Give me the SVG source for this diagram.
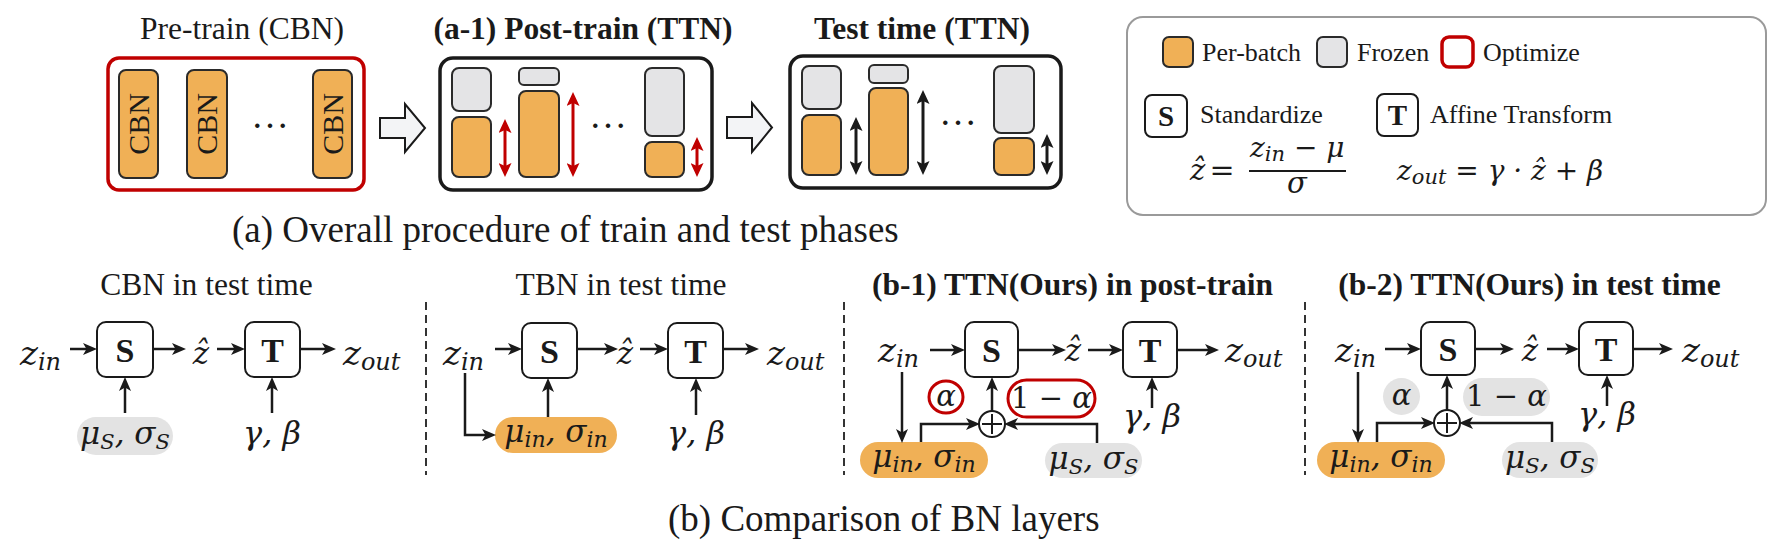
<svg xmlns="http://www.w3.org/2000/svg" width="1781" height="544" viewBox="0 0 1781 544">
<defs>
<style>
.t{font-family:"Liberation Serif","Times New Roman",serif;fill:#1a1a1a}
.ti{font-size:31.5px}
.tb{font-size:31.5px;font-weight:bold}
.lg{font-size:26px}
.cap{font-size:37px}
.bl{font-weight:bold}
.m{font-family:"DejaVu Serif",serif;font-style:italic;fill:#1a1a1a}
.mu{font-family:"DejaVu Serif",serif;fill:#1a1a1a}
.org{fill:#F0B056;stroke:#2a2a2a;stroke-width:2}
.gry{fill:#E4E4E6;stroke:#2a2a2a;stroke-width:2}
.opill{fill:#F0B056}
.gpill{fill:#E3E3E3}
.box{fill:#fff;stroke:#1a1a1a;stroke-width:2}
.c{fill:none;stroke:#1a1a1a;stroke-width:2.5;marker-end:url(#ah)}
.dr{fill:none;stroke:#C00000;stroke-width:3;marker-start:url(#hr);marker-end:url(#hr)}
.dk{fill:none;stroke:#1a1a1a;stroke-width:3;marker-start:url(#hk);marker-end:url(#hk)}
.dash{stroke:#333;stroke-width:2;stroke-dasharray:8 5}
.hol{fill:#F3F4F6;stroke:#1a1a1a;stroke-width:2;stroke-linejoin:miter}
</style>
<marker id="ah" viewBox="0 0 14 12" refX="4" refY="6" markerWidth="14" markerHeight="12" markerUnits="userSpaceOnUse" orient="auto-start-reverse"><path d="M0,0 L14,6 L0,12 L3.5,6 z" fill="#1a1a1a"/></marker>
<marker id="hr" viewBox="0 0 14 13" refX="4" refY="6.5" markerWidth="14" markerHeight="13" markerUnits="userSpaceOnUse" orient="auto-start-reverse"><path d="M0,0 L14,6.5 L0,13 L3,6.5 z" fill="#C00000"/></marker>
<marker id="hk" viewBox="0 0 14 13" refX="4" refY="6.5" markerWidth="14" markerHeight="13" markerUnits="userSpaceOnUse" orient="auto-start-reverse"><path d="M0,0 L14,6.5 L0,13 L3,6.5 z" fill="#1a1a1a"/></marker>
</defs>
<rect width="1781" height="544" fill="#fff"/>

<!-- (a) Pre-train -->
<g id="pretrain">
<text class="t ti" x="242" y="39" text-anchor="middle">Pre-train (CBN)</text>
<rect x="108" y="58" width="256" height="132" rx="11" fill="#fff" stroke="#C00000" stroke-width="3.5"/>
<rect class="org" x="119" y="70" width="39" height="108" rx="7"/>
<rect class="org" x="187" y="70" width="40" height="108" rx="7"/>
<rect class="org" x="313" y="70" width="39" height="108" rx="7"/>
<text class="t" font-size="30" text-anchor="middle" transform="translate(138.5,124) rotate(-90)" y="10">CBN</text>
<text class="t" font-size="30" text-anchor="middle" transform="translate(207,124) rotate(-90)" y="10">CBN</text>
<text class="t" font-size="30" text-anchor="middle" transform="translate(332.5,124) rotate(-90)" y="10">CBN</text>
<text class="t" font-size="38" x="270" y="128" text-anchor="middle">…</text>
</g>
<g id="arrow1"><polygon class="hol" points="380,118 405,118 405,104 425,128 405,152 405,138 380,138"/></g>

<!-- (a-1) Post-train -->
<g id="posttrain">
<text class="t tb" x="583" y="39" text-anchor="middle">(a-1) Post-train (TTN)</text>
<rect x="440" y="58" width="272" height="132" rx="13" fill="#fff" stroke="#1a1a1a" stroke-width="3.5"/>
<rect class="gry" x="452" y="68" width="39" height="43" rx="7"/>
<rect class="org" x="452" y="117" width="39" height="60" rx="7"/>
<rect class="gry" x="519" y="68" width="40" height="17" rx="5"/>
<rect class="org" x="519" y="91" width="40" height="86" rx="7"/>
<rect class="gry" x="645" y="68" width="39" height="68" rx="7"/>
<rect class="org" x="645" y="142" width="39" height="35" rx="7"/>
<line class="dr" x1="505" y1="129" x2="505" y2="167"/>
<line class="dr" x1="573" y1="102" x2="573" y2="167"/>
<line class="dr" x1="697" y1="147" x2="697" y2="167"/>
<text class="t" font-size="38" x="608" y="128" text-anchor="middle">…</text>
</g>
<g id="arrow2"><polygon class="hol" points="727,117 752,117 752,103 772,127.5 752,152 752,138 727,138"/></g>

<!-- Test time -->
<g id="testtime">
<text class="t tb" x="922" y="39" text-anchor="middle">Test time (TTN)</text>
<rect x="790" y="56" width="271" height="132" rx="13" fill="#fff" stroke="#1a1a1a" stroke-width="3.5"/>
<rect class="gry" x="802" y="66" width="39" height="43" rx="7"/>
<rect class="org" x="802" y="115" width="39" height="60" rx="7"/>
<rect class="gry" x="869" y="65" width="39" height="18" rx="5"/>
<rect class="org" x="869" y="88" width="39" height="87" rx="7"/>
<rect class="gry" x="994" y="66" width="40" height="67" rx="7"/>
<rect class="org" x="994" y="138" width="40" height="37" rx="7"/>
<line class="dk" x1="856" y1="127" x2="856" y2="165"/>
<line class="dk" x1="923" y1="100" x2="923" y2="165"/>
<line class="dk" x1="1047" y1="144" x2="1047" y2="165"/>
<text class="t" font-size="38" x="958" y="125" text-anchor="middle">…</text>
</g>

<!-- Legend -->
<g id="legend">
<rect x="1127" y="17" width="639" height="198" rx="16" fill="#fff" stroke="#9a9a9a" stroke-width="2"/>
<rect class="org" x="1163" y="37" width="30" height="30" rx="6"/>
<text class="t lg" x="1202" y="61">Per-batch</text>
<rect class="gry" x="1317" y="37" width="30" height="30" rx="6"/>
<text class="t lg" x="1357" y="61">Frozen</text>
<rect x="1442" y="37" width="31" height="30" rx="7" fill="#fff" stroke="#C00000" stroke-width="3.5"/>
<text class="t lg" x="1483" y="61">Optimize</text>
<rect class="box" x="1145" y="95" width="42" height="42" rx="7"/>
<text class="t bl" font-size="29" x="1166" y="126" text-anchor="middle">S</text>
<text class="t lg" x="1200" y="123">Standardize</text>
<rect class="box" x="1377" y="94" width="41" height="42" rx="7"/>
<text class="t bl" font-size="29" x="1397.5" y="125" text-anchor="middle">T</text>
<text class="t lg" x="1430" y="123">Affine Transform</text>
<text class="m" font-size="29" x="1190" y="180">ẑ</text>
<text class="mu" font-size="30" x="1222" y="180" text-anchor="middle">=</text>
<text class="m" font-size="28" x="1250" y="157">z<tspan font-size="21" dy="4">in</tspan><tspan dy="-4"> − μ</tspan></text>
<line x1="1249" y1="171" x2="1346" y2="171" stroke="#1a1a1a" stroke-width="1.8"/>
<text class="m" font-size="29" x="1297" y="193" text-anchor="middle">σ</text>
<text class="m" font-size="28" x="1397" y="180">z<tspan font-size="21" dy="4">out</tspan><tspan dy="-4"> = γ · ẑ + β</tspan></text>
</g>
<text class="t cap" x="232" y="242">(a) Overall procedure of train and test phases</text>

<!-- (b) CBN -->
<g id="cbn">
<text class="t ti" x="206.5" y="295" text-anchor="middle">CBN in test time</text>
<text class="m" font-size="34" x="20" y="365">z<tspan font-size="24" dy="5">in</tspan></text>
<rect class="box" x="97" y="322" width="56" height="55" rx="9"/>
<text class="t bl" font-size="34" x="125" y="362" text-anchor="middle">S</text>
<text class="m" font-size="31" x="201" y="364" text-anchor="middle">ẑ</text>
<rect class="box" x="245" y="322" width="55" height="55" rx="9"/>
<text class="t bl" font-size="34" x="272.5" y="362" text-anchor="middle">T</text>
<text class="m" font-size="34" x="343" y="365">z<tspan font-size="24" dy="5">out</tspan></text>
<rect class="gpill" x="77" y="417" width="96" height="38" rx="19"/>
<text class="m" font-size="31" x="125" y="444" text-anchor="middle">μ<tspan font-size="21" dy="5">S</tspan><tspan dy="-5">, σ</tspan><tspan font-size="21" dy="5">S</tspan></text>
<text class="m" font-size="32" x="272" y="444" text-anchor="middle">γ, β</text>
</g>
<line class="dash" x1="426" y1="302" x2="426" y2="475"/>

<!-- (b) TBN -->
<g id="tbn">
<text class="t ti" x="621" y="295" text-anchor="middle">TBN in test time</text>
<text class="m" font-size="34" x="443" y="365">z<tspan font-size="24" dy="5">in</tspan></text>
<rect class="box" x="522" y="323" width="55" height="55" rx="9"/>
<text class="t bl" font-size="34" x="549.5" y="363" text-anchor="middle">S</text>
<text class="m" font-size="31" x="625" y="364" text-anchor="middle">ẑ</text>
<rect class="box" x="668" y="323" width="55" height="55" rx="9"/>
<text class="t bl" font-size="34" x="695.5" y="363" text-anchor="middle">T</text>
<text class="m" font-size="34" x="767" y="365">z<tspan font-size="24" dy="5">out</tspan></text>
<rect class="opill" x="495" y="417" width="122" height="36" rx="18"/>
<text class="m" font-size="31" x="556" y="442" text-anchor="middle">μ<tspan font-size="22" dy="5">in</tspan><tspan dy="-5">, σ</tspan><tspan font-size="22" dy="5">in</tspan></text>
<text class="m" font-size="32" x="696" y="444" text-anchor="middle">γ, β</text>
</g>
<line class="dash" x1="844" y1="302" x2="844" y2="475"/>

<!-- (b-1) -->
<g id="ttn-post">
<text class="t tb" x="1072.5" y="295" text-anchor="middle">(b-1) TTN(Ours) in post-train</text>
<text class="m" font-size="34" x="878" y="362">z<tspan font-size="24" dy="5">in</tspan></text>
<rect class="box" x="965" y="322" width="53" height="55" rx="9"/>
<text class="t bl" font-size="34" x="991.5" y="362" text-anchor="middle">S</text>
<text class="m" font-size="31" x="1073" y="361" text-anchor="middle">ẑ</text>
<rect class="box" x="1123" y="322" width="54" height="55" rx="9"/>
<text class="t bl" font-size="34" x="1150" y="362" text-anchor="middle">T</text>
<text class="m" font-size="34" x="1225" y="362">z<tspan font-size="24" dy="5">out</tspan></text>
<rect class="opill" x="860" y="442" width="128" height="36" rx="18"/>
<text class="m" font-size="31" x="924" y="467" text-anchor="middle">μ<tspan font-size="22" dy="5">in</tspan><tspan dy="-5">, σ</tspan><tspan font-size="22" dy="5">in</tspan></text>
<rect class="gpill" x="1045" y="443" width="97" height="35" rx="17.5"/>
<text class="m" font-size="31" x="1093.5" y="469" text-anchor="middle">μ<tspan font-size="21" dy="5">S</tspan><tspan dy="-5">, σ</tspan><tspan font-size="21" dy="5">S</tspan></text>
<ellipse cx="946" cy="397" rx="17" ry="16" fill="#fff" stroke="#C00000" stroke-width="3"/>
<text class="m" font-size="29" x="946" y="406" text-anchor="middle">α</text>
<rect x="1008" y="380" width="87" height="37" rx="18.5" fill="#fff" stroke="#C00000" stroke-width="3"/>
<text class="m" font-size="29" x="1051.5" y="408" text-anchor="middle"><tspan font-style="normal">1 − </tspan>α</text>
<circle cx="992" cy="424" r="13" fill="#fff" stroke="#1a1a1a" stroke-width="2"/>
<path d="M982,424 H1002 M992,414 V434" stroke="#1a1a1a" stroke-width="2"/>
<text class="m" font-size="32" x="1152" y="427" text-anchor="middle">γ, β</text>
</g>
<line class="dash" x1="1305" y1="302" x2="1305" y2="475"/>

<!-- (b-2) -->
<g id="ttn-test">
<text class="t tb" x="1529.5" y="295" text-anchor="middle">(b-2) TTN(Ours) in test time</text>
<text class="m" font-size="34" x="1335" y="362">z<tspan font-size="24" dy="5">in</tspan></text>
<rect class="box" x="1421" y="322" width="54" height="53" rx="9"/>
<text class="t bl" font-size="34" x="1448" y="361" text-anchor="middle">S</text>
<text class="m" font-size="31" x="1530" y="361" text-anchor="middle">ẑ</text>
<rect class="box" x="1579" y="322" width="54" height="53" rx="9"/>
<text class="t bl" font-size="34" x="1606" y="361" text-anchor="middle">T</text>
<text class="m" font-size="34" x="1682" y="362">z<tspan font-size="24" dy="5">out</tspan></text>
<rect class="opill" x="1317" y="442" width="128" height="36" rx="18"/>
<text class="m" font-size="31" x="1381" y="467" text-anchor="middle">μ<tspan font-size="22" dy="5">in</tspan><tspan dy="-5">, σ</tspan><tspan font-size="22" dy="5">in</tspan></text>
<rect class="gpill" x="1502" y="442" width="96" height="36" rx="18"/>
<text class="m" font-size="31" x="1550" y="468" text-anchor="middle">μ<tspan font-size="21" dy="5">S</tspan><tspan dy="-5">, σ</tspan><tspan font-size="21" dy="5">S</tspan></text>
<rect class="gpill" x="1383" y="378" width="37" height="37" rx="18.5"/>
<text class="m" font-size="29" x="1401.5" y="405" text-anchor="middle">α</text>
<rect class="gpill" x="1463" y="378" width="87" height="38" rx="19"/>
<text class="m" font-size="29" x="1506.5" y="406" text-anchor="middle"><tspan font-style="normal">1 − </tspan>α</text>
<circle cx="1447" cy="423" r="13" fill="#fff" stroke="#1a1a1a" stroke-width="2"/>
<path d="M1437,423 H1457 M1447,413 V433" stroke="#1a1a1a" stroke-width="2"/>
<text class="m" font-size="32" x="1607" y="425" text-anchor="middle">γ, β</text>
</g>
<text class="t cap" x="668" y="531">(b) Comparison of BN layers</text>

<g id="connectors">
<line class="c" x1="70" y1="349" x2="87" y2="349"/>
<line class="c" x1="153" y1="349" x2="176" y2="349"/>
<line class="c" x1="217" y1="349" x2="235" y2="349"/>
<line class="c" x1="300" y1="349" x2="326" y2="349"/>
<line class="c" x1="125" y1="413" x2="125" y2="387"/>
<line class="c" x1="272" y1="413" x2="272" y2="387"/>

<line class="c" x1="495" y1="349" x2="512" y2="349"/>
<line class="c" x1="577" y1="349" x2="608" y2="349"/>
<line class="c" x1="640" y1="349" x2="658" y2="349"/>
<line class="c" x1="723" y1="349" x2="749" y2="349"/>
<path class="c" d="M465,373 V435 H486"/>
<line class="c" x1="548" y1="417" x2="548" y2="388"/>
<line class="c" x1="696" y1="415" x2="696" y2="388"/>

<line class="c" x1="930" y1="350" x2="955" y2="350"/>
<line class="c" x1="1018" y1="350" x2="1056" y2="350"/>
<line class="c" x1="1088" y1="350" x2="1113" y2="350"/>
<line class="c" x1="1177" y1="350" x2="1209" y2="350"/>
<line class="c" x1="902" y1="372" x2="902" y2="433"/>
<path class="c" d="M921,442 V424 H970"/>
<line class="c" x1="992" y1="411" x2="992" y2="387"/>
<path class="c" d="M1097,443 V424 H1014"/>
<line class="c" x1="1152" y1="408" x2="1152" y2="387"/>

<line class="c" x1="1385" y1="349" x2="1411" y2="349"/>
<line class="c" x1="1475" y1="349" x2="1504" y2="349"/>
<line class="c" x1="1547" y1="349" x2="1569" y2="349"/>
<line class="c" x1="1633" y1="349" x2="1663" y2="349"/>
<line class="c" x1="1358" y1="372" x2="1358" y2="433"/>
<path class="c" d="M1377,442 V423 H1425"/>
<line class="c" x1="1447" y1="410" x2="1447" y2="385"/>
<path class="c" d="M1552,442 V423 H1469"/>
<line class="c" x1="1607" y1="406" x2="1607" y2="385"/>
</g>
</svg>
